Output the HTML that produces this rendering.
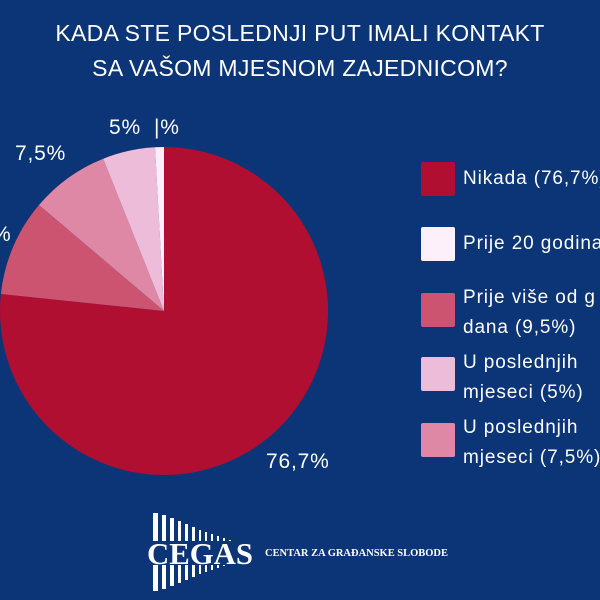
<!DOCTYPE html>
<html><head><style>
body{margin:0;width:600px;height:600px;background:#0b3577;overflow:hidden;font-family:"Liberation Sans",sans-serif;color:#fff;position:relative}
.t{position:absolute;left:0;width:600px;text-align:center;font-size:23px;letter-spacing:0.3px}
.sq{position:absolute;left:421px;width:34px;height:34px;border-radius:2px}
.lt{position:absolute;left:463px;font-size:19px;line-height:30px;white-space:nowrap;letter-spacing:0.9px}
.pl{position:absolute;font-size:21px;white-space:nowrap;letter-spacing:0.8px}
</style></head><body>
<div class="t" style="top:20px">KADA STE POSLEDNJI PUT IMALI KONTAKT</div>
<div class="t" style="top:55px">SA VAŠOM MJESNOM ZAJEDNICOM?</div>
<svg width="600" height="600" style="position:absolute;left:0;top:0">
<g transform="translate(164,311)">
<path d="M0,0 L0,-164 A164,164 0 1 1 -163.1,-17.0 Z" fill="#b10f31"/>
<path d="M0,0 L-163.1,-17.0 A164,164 0 0 1 -125,-106 Z" fill="#cc5470"/>
<path d="M0,0 L-125,-106 A164,164 0 0 1 -60.8,-152.3 Z" fill="#de88a6"/>
<path d="M0,0 L-60.8,-152.3 A164,164 0 0 1 -9,-163.7 Z" fill="#edbcd8"/>
<path d="M0,0 L-9,-163.7 A164,164 0 0 1 0,-164 Z" fill="#fbeefa"/>
</g>
<g fill="#fff">
<rect x="153" y="513" width="5" height="78"/><rect x="162" y="515" width="4" height="74"/><rect x="170" y="518" width="4" height="68"/><rect x="178" y="521" width="3" height="62"/><rect x="185" y="524" width="3" height="56"/><rect x="192" y="527" width="3" height="50"/><rect x="199" y="530" width="2" height="44"/><rect x="205" y="532" width="2" height="40"/><rect x="211" y="534" width="2" height="36"/><rect x="217" y="536" width="2" height="32"/><rect x="223" y="538" width="2" height="28"/><rect x="229" y="540" width="2" height="24"/><rect x="235" y="542" width="2" height="20"/>
</g>
<rect x="146" y="541" width="110" height="24" fill="#0b3577"/>
<text x="147" y="564" font-family="Liberation Serif" font-weight="bold" font-size="31" fill="#fff" textLength="106" lengthAdjust="spacingAndGlyphs">CEGAS</text>
<text x="265" y="556" font-family="Liberation Serif" font-weight="bold" font-size="10.5" fill="#fff" textLength="183" lengthAdjust="spacingAndGlyphs">CENTAR ZA GRAĐANSKE SLOBODE</text>
</svg>
<div class="pl" style="left:266px;top:450px">76,7%</div>
<div class="pl" style="left:15px;top:142px">7,5%</div>
<div class="pl" style="left:109px;top:116px">5%</div>
<div class="pl" style="left:154px;top:116px">|%</div>
<div class="pl" style="left:-8px;top:223px">%</div>
<div class="sq" style="top:162px;background:#b10f31"></div>
<div class="sq" style="top:227px;background:#fdf0fb"></div>
<div class="sq" style="top:293px;background:#cc5470"></div>
<div class="sq" style="top:357px;background:#edbcd8"></div>
<div class="sq" style="top:423px;background:#de88a6"></div>
<div class="lt" style="top:164px">Nikada (76,7%)</div>
<div class="lt" style="top:229px">Prije 20 godina</div>
<div class="lt" style="top:283px">Prije više od g<br>dana (9,5%)</div>
<div class="lt" style="top:348px">U poslednjih<br>mjeseci (5%)</div>
<div class="lt" style="top:413px">U poslednjih<br>mjeseci (7,5%)</div>
</body></html>
